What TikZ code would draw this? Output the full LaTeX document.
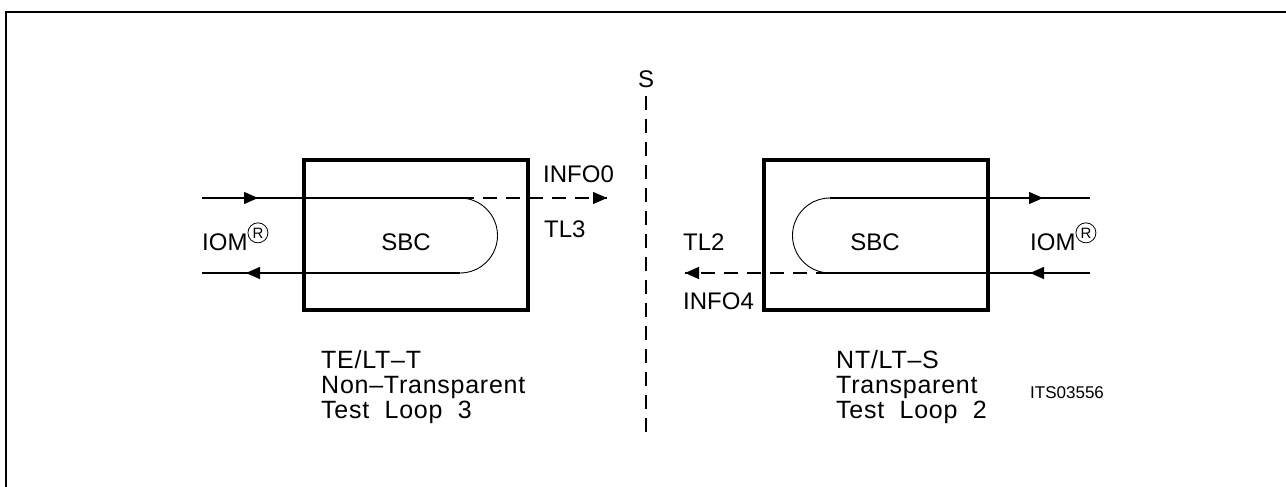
\documentclass[tikz,border=0pt]{standalone}
\usepackage{fontspec}
\setmainfont{Liberation Sans}
\newfontfamily\spacedfont[LetterSpace=3]{Liberation Sans}
\usetikzlibrary{arrows.meta}
\newcommand\regmark{\raisebox{12pt}{\tikz[baseline=(r.base)]\node[draw,circle,inner sep=0pt,minimum size=20pt,line width=0.8pt,font=\fontsize{15}{15}\selectfont] (r) {R};}}
\tikzset{
  sbox/.style={draw,line width=3.4pt,minimum width=224pt,minimum height=150pt,inner sep=0pt},
  lab/.style={anchor=base west,inner sep=0pt,font=\fontsize{24}{25}\selectfont},
  blab/.style={anchor=base west,inner sep=0pt,align=left,font=\spacedfont\fontsize{25}{25}\selectfont},
  sig/.style={line width=1.3pt},
  loopline/.style={line width=0.9pt},
  dsig/.style={line width=1.3pt,dash pattern=on 14pt off 9pt},
  tip/.style={-{Triangle[length=14pt,width=12pt]},line width=1.3pt},
  sep/.style={line width=1.4pt,dash pattern=on 14pt off 9pt}
}
\begin{document}
\begin{tikzpicture}[x=1pt,y=-1pt]
\useasboundingbox (0,0) rectangle (1286,487);
% frame
\coordinate (fb) at (6,487);
\coordinate (fc) at (6,12);
\coordinate (fr) at (1286,12);
\draw[line width=2pt] (fb) -- (fc) -- (fr);
% separator
\node[lab,anchor=base] (S) at (646,88) {S};
\coordinate (s1) at (646,96);
\coordinate (s2) at (646,436);
\draw[sep] (s1) -- (s2);
% left block
\node[sbox] (LB) at (416,235) {};
\node[lab,anchor=base] (LSBC) at (406,250) {SBC};
\coordinate (la) at (202,198);
\coordinate (lb) at (460,198);
\coordinate (lc) at (460,273);
\coordinate (ld) at (202,273);
\coordinate (lt) at (607,198);
\coordinate (la1) at (240,198);
\coordinate (la2) at (258,198);
\coordinate (ld1) at (264,273);
\coordinate (ld2) at (246,273);
\draw[sig] (la) -- (lb);
\draw[tip] (la1) -- (la2);
\draw[loopline] (lb) arc[start angle=-90,end angle=90,radius=37.5];
\draw[sig] (lc) -- (ld);
\draw[tip] (ld1) -- (ld2);
\draw[dsig] (lb) -- (lt);
\draw[tip] ([xshift=-2pt]lt) -- (lt);
\node[lab] (INFO0) at (543,182) {INFO0};
\node[lab] (TL3) at (544,237) {TL3};
\node[lab] (LIOM) at (202,250) {IOM\regmark};
\node[blab] (LTXT1) at (321,368) {TE/LT\textendash T};
\node[blab] (LTXT2) at (321,393) {Non\textendash Transparent};
\node[blab] (LTXT3) at (321,418) {Test\ \ Loop\ \ 3};
% right block
\node[sbox] (RB) at (876,235) {};
\node[lab,anchor=base] (RSBC) at (875,250) {SBC};
\coordinate (ra) at (1090,198);
\coordinate (rb) at (830,198);
\coordinate (rc) at (830,273);
\coordinate (rd) at (1090,273);
\coordinate (rt) at (685,273);
\coordinate (ra1) at (1025,198);
\coordinate (ra2) at (1043,198);
\coordinate (rd1) at (1048,273);
\coordinate (rd2) at (1030,273);
\draw[sig] (rb) -- (ra);
\draw[tip] (ra1) -- (ra2);
\draw[loopline] (rb) arc[start angle=-90,end angle=-270,radius=37.5];
\draw[sig] (rd) -- (rc);
\draw[tip] (rd1) -- (rd2);
\draw[dsig] (rc) -- (rt);
\draw[tip] ([xshift=2pt]rt) -- (rt);
\node[lab] (TL2) at (683,250) {TL2};
\node[lab] (INFO4) at (683,309) {INFO4};
\node[lab] (RIOM) at (1030,250) {IOM\regmark};
\node[blab] (RTXT1) at (836,368) {NT/LT\textendash S};
\node[blab] (RTXT2) at (836,393) {Transparent};
\node[blab] (RTXT3) at (836,418) {Test\ \ Loop\ \ 2};
\node[lab,font=\fontsize{17}{17}\selectfont] (ITS) at (1030,398) {ITS03556};
\end{tikzpicture}
\end{document}
